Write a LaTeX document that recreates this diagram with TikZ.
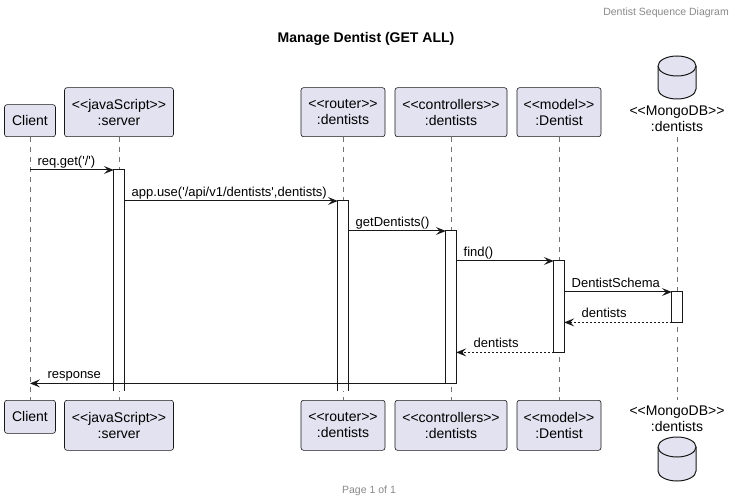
\documentclass[tikz,border=0pt]{standalone}
\usepackage{fontspec}
\setmainfont{Liberation Sans}[Ligatures=TeXOff]
\usetikzlibrary{arrows.meta}
\definecolor{partfill}{HTML}{E2E2F0}
\definecolor{lineblack}{HTML}{181818}
\definecolor{pagegray}{HTML}{888888}

\begin{document}
\begin{tikzpicture}[
    x=1pt, y=-1pt,
    participant/.style={draw=lineblack, fill=partfill, rounded corners=2.5pt, line width=0.6pt,
      align=center, inner sep=0pt, minimum height=49pt, font=\fontsize{14}{16}\selectfont},
    dbname/.style={align=center, inner sep=0pt, font=\fontsize{14}{16}\selectfont},
    database/.style={draw=lineblack, fill=partfill, line width=1pt},
    lifeline/.style={draw=black!55, line width=0.8pt, dash pattern=on 5pt off 5pt},
    activation/.style={fill=white, inner sep=0pt, minimum width=10pt, anchor=north},
    bar/.style={draw=lineblack, line width=1pt},
    msg/.style={draw=lineblack, line width=1pt, -{Stealth[length=10pt, width=8pt, inset=4pt]}},
    reply/.style={msg, dash pattern=on 2pt off 2pt},
    label/.style={inner sep=0pt, font=\fontsize{13}{15}\selectfont, yshift=4.5pt},
    every node/.style={text=black}
  ]
  \useasboundingbox (0,0) rectangle (738,502);

  % Header, title, footer
  \node[anchor=base east, inner sep=0pt, text=pagegray, font=\fontsize{10.5}{12}\selectfont] (header) at (729,16) {Dentist Sequence Diagram};
  \node[anchor=base, inner sep=0pt, font=\bfseries\fontsize{14}{16}\selectfont] (title) at (366,43) {Manage Dentist (GET ALL)};
  \node[anchor=base, inner sep=0pt, text=pagegray, font=\fontsize{10.5}{12}\selectfont] (footer) at (369,493) {Page 1 of 1};

  % Participants (top)
  \node[participant, anchor=south, minimum width=51pt, minimum height=32pt] (cl-top) at (30,137) {Client};
  \node[participant, anchor=south, minimum width=109pt] (srv-top) at (119,137) {<<javaScript>>\\:server};
  \node[participant, anchor=south, minimum width=84pt] (rtr-top) at (343,137) {<<router>>\\:dentists};
  \node[participant, anchor=south, minimum width=112pt] (ctl-top) at (451,137) {<<controllers>>\\:dentists};
  \node[participant, anchor=south, minimum width=84pt] (mdl-top) at (559,137) {<<model>>\\:Dentist};
  \node[dbname, anchor=north] (db-top) at (677,106) {<<MongoDB>>\\:dentists};
  \coordinate (db-top-line) at (677,137);

  % Participants (bottom)
  \node[participant, anchor=north, minimum width=51pt, minimum height=33pt] (cl-bot) at (30,400) {Client};
  \node[participant, anchor=north, minimum width=109pt, minimum height=50pt] (srv-bot) at (119,400) {<<javaScript>>\\:server};
  \node[participant, anchor=north, minimum width=84pt, minimum height=50pt] (rtr-bot) at (343,400) {<<router>>\\:dentists};
  \node[participant, anchor=north, minimum width=112pt, minimum height=50pt] (ctl-bot) at (451,400) {<<controllers>>\\:dentists};
  \node[participant, anchor=north, minimum width=84pt, minimum height=50pt] (mdl-bot) at (559,400) {<<model>>\\:Dentist};
  \node[dbname, anchor=north] (db-bot) at (677,406) {<<MongoDB>>\\:dentists};
  \coordinate (db-bot-line) at (677,400);

  % Database cylinders
  \draw[database] (658,66) -- (658,89) arc[start angle=180, end angle=360, x radius=19pt, y radius=10pt]
    -- (696,66) arc[start angle=0, end angle=180, x radius=19pt, y radius=10pt] -- cycle;
  \draw[database, fill=none] (658,66) arc[start angle=180, end angle=360, x radius=19pt, y radius=10pt];
  \draw[database] (658,447) -- (658,471) arc[start angle=180, end angle=360, x radius=19pt, y radius=10pt]
    -- (696,447) arc[start angle=0, end angle=180, x radius=19pt, y radius=10pt] -- cycle;
  \draw[database, fill=none] (658,447) arc[start angle=180, end angle=360, x radius=19pt, y radius=10pt];

  % Lifelines
  \foreach \p in {cl, srv, rtr, ctl, mdl}
    \draw[lifeline] (\p-top.south) -- (\p-bot.north);
  \draw[lifeline] (db-top-line) -- (db-bot-line);

  % Activations
  \node[activation, minimum height=221pt] (act-srv) at (119,170) {};
  \node[activation, minimum height=190pt] (act-rtr) at (343,201) {};
  \node[activation, minimum height=152pt] (act-ctl) at (451,231) {};
  \node[activation, minimum height=91pt] (act-mdl) at (559,261) {};
  \node[activation, minimum height=30pt] (act-db) at (677,292) {};
  \foreach \a in {srv, rtr}
    \draw[bar] (act-\a.south west) |- (act-\a.north east) -- (act-\a.south east);
  \foreach \a in {ctl, mdl, db}
    \draw[bar] (act-\a.south west) rectangle (act-\a.north east);

  % Messages
  \draw[msg] (cl-top.south |- act-srv.north) -- node[label, at start, anchor=base west, xshift=7pt] (l1) {req.get('/')} (act-srv.north west);
  \draw[msg] (act-srv.east |- act-rtr.north) -- node[label, at start, anchor=base west, xshift=7pt] (l2) {app.use('/api/v1/dentists',dentists)} (act-rtr.north west);
  \draw[msg] (act-rtr.east |- act-ctl.north) -- node[label, at start, anchor=base west, xshift=7pt] (l3) {getDentists()} (act-ctl.north west);
  \draw[msg] (act-ctl.east |- act-mdl.north) -- node[label, at start, anchor=base west, xshift=7pt] (l4) {find()} (act-mdl.north west);
  \draw[msg] (act-mdl.east |- act-db.north) -- node[label, at start, anchor=base west, xshift=7pt] (l5) {DentistSchema} (act-db.north west);
  \draw[reply] (act-db.south west) -- node[label, at end, anchor=base west, xshift=17pt] (l6) {dentists} (act-mdl.east |- act-db.south);
  \draw[reply] (act-mdl.south west) -- node[label, at end, anchor=base west, xshift=17pt] (l7) {dentists} (act-ctl.east |- act-mdl.south);
  \draw[msg] (act-ctl.south west) -- node[label, at end, anchor=base west, xshift=17pt] (l8) {response} (cl-top.south |- act-ctl.south);

\end{tikzpicture}
\end{document}
